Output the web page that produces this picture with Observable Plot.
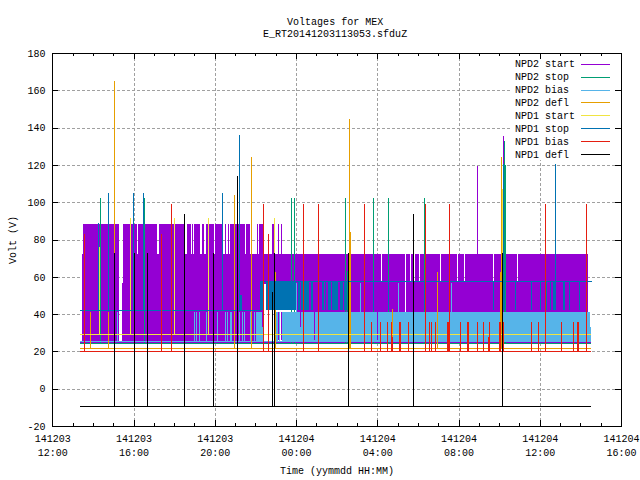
<!DOCTYPE html>
<html><head><meta charset="utf-8">
<style>html,body{margin:0;padding:0;background:#fff}</style>
<script src="https://cdn.jsdelivr.net/npm/d3@7"></script>
<script src="https://cdn.jsdelivr.net/npm/@observablehq/plot@0.6"></script>
</head><body><div id="c"></div>
<script>
// All times: hours after 141203 12:00. All values: volts.
const xTickHours=[0,4,8,12,16,20,24,28];
const xTickDates=["141203","141203","141203","141204","141204","141204","141204","141204"];
const xTickTimes=["12:00","16:00","20:00","00:00","04:00","08:00","12:00","16:00"];
const yTicks=[-20,0,20,40,60,80,100,120,140,160,180];
const minorHours=d3.range(0,29);
const names=["NPD2 start","NPD2 stop","NPD2 bias","NPD2 defl","NPD1 start","NPD1 stop","NPD1 bias","NPD1 defl"];
const colors=["#9400d3","#009e73","#56b4e9","#e69f00","#f0e442","#0072b2","#e51e10","#000000"];
const tStart=1.36,tEnd=26.51;

// NPD2 start: dense pulses, read as filled spans [from,to,low,high]
const purpleSpans=[
[1.51,3.28,72,88.3],[3.48,4.17,72,88.3],[4.22,5.15,72,88.3],[5.25,6.48,72,88.3],[6.63,6.83,72,88.3],[6.88,6.92,72,88.3],
[6.97,7.27,72,88.3],[7.37,7.47,72,88.3],[7.56,7.96,72,88.3],[8.01,8.40,72,88.3],[8.50,8.55,72,88.3],[8.65,8.70,72,88.3],
[8.75,9.48,72,88.3],[9.53,9.73,72,88.3],[10.07,10.12,72,88.3],[10.17,10.37,72,88.3],[10.81,10.91,72,88.3],[11.11,11.16,72,88.3],[11.26,11.31,72,88.3],
[1.46,3.28,25,72],[3.48,10.42,25,72],[3.43,3.48,25,56.7],
[10.42,16.17,56,72],[16.22,17.35,56,72],[17.40,17.60,56,72],[17.65,17.80,56,72],[17.85,18.04,56,72],[18.09,19.07,56,72],
[19.12,19.91,56,72],[19.96,20.25,56,72],[20.30,21.68,56,72],[21.73,22.86,56,72],[22.91,26.36,56,72],
[11.99,17.35,41,57.6],[17.40,26.36,41,57.6]
];
const purpleBase=24.9;
const purplePeakT=[20.92,22.19], purplePeakV=[119.4,135.5];
const purpleStripeT=[16.00,12.89,12.19,11.13,11.26,10.32], purpleStripeLow=[26,26,33,26,26,33], purpleStripeHigh=[41,41,41,41,41,42];

// NPD2 stop
const greenBase=24.3;
const greenT=[2.36,4.53,11.76,11.91,14.42,15.80,16.54,18.31,22.24,14.49,22.28];
const greenV=[102.2,102,102,102,102,102,102,102,133,63,120];

// NPD2 bias
const lightBase=25.5;
const lightSpans=[[10.07,10.37,25.5,41],[10.96,11.11,25.5,41],[11.16,11.21,25.5,41],[11.31,26.46,25.5,41],[26.46,26.51,25.5,33],
[8.50,8.55,25.5,41],[8.75,8.84,25.5,41],[9.73,9.83,25.5,41]];
const lightStripeT=[3.18,6.97,7.07,7.22,7.56,8.09,8.60,9.19,9.33,9.43,9.93,10.02];
const lightUpperT=[11.99,15.16,17.03,19.64];

// NPD2 defl
const orangeBase=21.6;
const orangeT=[3.05,8.96,9.79,14.62,14.65,22.10,1.87,2.76,16.72,18.95,22.03,10.96];
const orangeV=[165,104,124,144.6,84,124,41,41,43,62.6,62.6,62.6];

// NPD1 start
const yellowBase=29.2;
const yellowT=[3.84,6.00,7.68,10.93,2.31,22.12];
const yellowV=[91.5,91.5,91.5,91.5,76,107];

// NPD1 stop
const blueLevelT=[1.36,10.22,10.22,26.51];
const blueLevelV=[42,42,57.6,57.6];
const blueT=[2.26,2.76,3.99,4.48,8.37,9.20,22.19,24.75];
const blueV=[89,105,105,105,105,136,120.5,120.5];
const blueSpans=[[9.24,9.33,42,50],[10.22,10.37,42,57.6],[10.52,11.99,42,57.6],[12.09,12.19,42,57.6],[12.24,12.63,42,57.6],
[12.73,12.83,42,57.6],[13.27,13.37,42,57.6],[13.42,13.47,42,57.6],[13.57,13.71,42,57.6],[13.76,14.06,42,57.6],[14.16,14.30,42,57.6],
[14.35,14.50,42,57.6],[22.13,22.28,42,57.6],[24.63,24.78,42,57.6],[25.12,25.22,42,57.6]];
const blueDipT=[15.80,16.54,18.32,21.70,22.79,23.57,24.02,24.30,24.49,25.44,25.93];

// NPD1 bias
const redBase=20;
const redTallT=[5.86,10.38,12.35,13.09,15.35,18.36,19.54,24.26,26.28];
const redMidT=[1.56,5.36,10.63];
const redShortT=[15.68,16.13,16.49,16.70,17.06,17.11,17.51,18.55,18.65,18.85,19.44,19.49,19.54,20.08,20.43,20.48,20.92,21.21,21.49,22.01,22.06,22.18,23.57,23.92,25.05,25.64,25.85,25.90];
const redLowT=[16.74,21.44];
const redTallV=99, redMidV=83, redShortV=35.8, redLowV=27.7;

// NPD1 defl
const blackBase=-9.5;
const blackT=[3.05,4.04,4.68,6.50,7.92,9.10,10.83,10.93,14.57,17.77,22.15];
const blackV=[73,73,73,93.7,73,114,52,73,73,93.7,73];

const crisp={shapeRendering:"crispEdges"};
const spans=(data,fill)=>Plot.rect(data,{x1:d=>d[0],x2:d=>d[1],y1:d=>d[2],y2:d=>d[3],fill,...crisp});
const base=(v,stroke)=>Plot.ruleY([v],{x1:tStart,x2:tEnd,stroke,strokeWidth:1,...crisp});
const spikes=(ts,low,high,stroke)=>Plot.ruleX(ts,{x:d=>d,y1:low,y2:(d,i)=>typeof high==="number"?high:high[i],stroke,strokeWidth:1,...crisp});

const legendTop=174.3,legendStep=6.94;
const legendY=(d,i)=>legendTop-i*legendStep;

const chart=Plot.plot({
  width:640,height:480,marginLeft:52,marginRight:19,marginTop:53,marginBottom:54,
  style:{fontFamily:"'Liberation Mono',monospace",fontSize:"10px",background:"#fff",color:"#000"},
  x:{domain:[0,28],range:[52.3,621]},
  y:{domain:[-20,180],range:[426,53]},
  color:{type:"identity"},
  marks:[
    Plot.ruleY(yTicks.slice(1,-1),{stroke:"#a0a0a0",strokeDasharray:"3,2",strokeWidth:1,...crisp}),
    Plot.ruleX(xTickHours.slice(1,-1),{stroke:"#a0a0a0",strokeDasharray:"3,2",strokeWidth:1,...crisp}),
    // NPD2 start
    spans(purpleSpans,colors[0]),
    base(purpleBase,colors[0]),
    spikes(purplePeakT,purpleBase,purplePeakV,colors[0]),
    // NPD2 stop
    base(greenBase,colors[1]),
    spikes(greenT,greenBase,greenV,colors[1]),
    // NPD2 bias
    base(lightBase,colors[2]),
    spans(lightSpans,colors[2]),
    spikes(lightStripeT,lightBase,41,colors[2]),
    spikes(lightUpperT,41,56.5,colors[2]),
    Plot.ruleX(purpleStripeT,{x:d=>d,y1:(d,i)=>purpleStripeLow[i],y2:(d,i)=>purpleStripeHigh[i],stroke:colors[0],strokeWidth:1,...crisp}),
    // NPD2 defl
    base(orangeBase,colors[3]),
    spikes(orangeT,orangeBase,orangeV,colors[3]),
    // NPD1 start
    base(yellowBase,colors[4]),
    spikes(yellowT,yellowBase,yellowV,colors[4]),
    // NPD1 stop
    spans(blueSpans,colors[5]),
    Plot.line(blueLevelT,{x:d=>d,y:(d,i)=>blueLevelV[i],stroke:colors[5],strokeWidth:1,...crisp}),
    spikes(blueDipT,42,57.6,colors[5]),
    Plot.ruleX(blueT,{x:d=>d,y1:(d,i)=>blueLevelV[0],y2:(d,i)=>blueV[i],stroke:colors[5],strokeWidth:1,...crisp}),
    // NPD1 bias
    base(redBase,colors[6]),
    spikes(redTallT,redBase,redTallV,colors[6]),
    spikes(redMidT,redBase,redMidV,colors[6]),
    spikes(redShortT,redBase,redShortV,colors[6]),
    spikes(redLowT,redBase,redLowV,colors[6]),
    // NPD1 defl
    base(blackBase,colors[7]),
    spikes(blackT,blackBase,blackV,colors[7]),
    // Key (opaque)
    Plot.rect([0],{x1:22.62,x2:27.9,y1:122.6,y2:177.8,fill:"#fff"}),
    Plot.text(names,{x:22.76,y:legendY,text:d=>d,textAnchor:"start",fill:"#000"}),
    ...names.map((n,i)=>Plot.ruleY([legendY(n,i)],{x1:26.02,x2:27.44,stroke:colors[i],strokeWidth:1,...crisp})),
    // Axes
    Plot.axisY({ticks:yTicks,tickSize:0,tickPadding:7,label:"Volt (V)",labelAnchor:"center",labelArrow:"none",labelOffset:44,tickFormat:d=>String(d).replace("\u2212","-")}),
    Plot.axisX({ticks:xTickHours,tickSize:0,tickPadding:6,lineHeight:1.4,tickFormat:(d,i)=>xTickDates[xTickHours.indexOf(d)]+"\n"+xTickTimes[xTickHours.indexOf(d)],label:"Time (yymmdd HH:MM)",labelAnchor:"center",labelArrow:"none",labelOffset:47}),
    Plot.ruleX(minorHours,{x:d=>d,y1:-20,y2:-18.4,stroke:"#000",...crisp}),
    Plot.ruleX(minorHours,{x:d=>d,y1:180,y2:178.4,stroke:"#000",...crisp}),
    Plot.ruleX(xTickHours,{x:d=>d,y1:-20,y2:-16.8,stroke:"#000",...crisp}),
    Plot.ruleX(xTickHours,{x:d=>d,y1:180,y2:176.8,stroke:"#000",...crisp}),
    Plot.ruleY(yTicks,{y:d=>d,x1:0,x2:0.3,stroke:"#000",...crisp}),
    Plot.ruleY(yTicks,{y:d=>d,x1:27.7,x2:28,stroke:"#000",...crisp}),
    Plot.frame({stroke:"#000",strokeWidth:1,...crisp}),
    Plot.text(["Voltages for MEX"],{x:13.9,y:180,dy:-32,text:d=>d,fill:"#000"}),
    Plot.text(["E_RT20141203113053.sfduZ"],{x:13.9,y:180,dy:-19.5,text:d=>d,fill:"#000"})
  ]
});
document.getElementById("c").appendChild(chart);
</script></body></html>
